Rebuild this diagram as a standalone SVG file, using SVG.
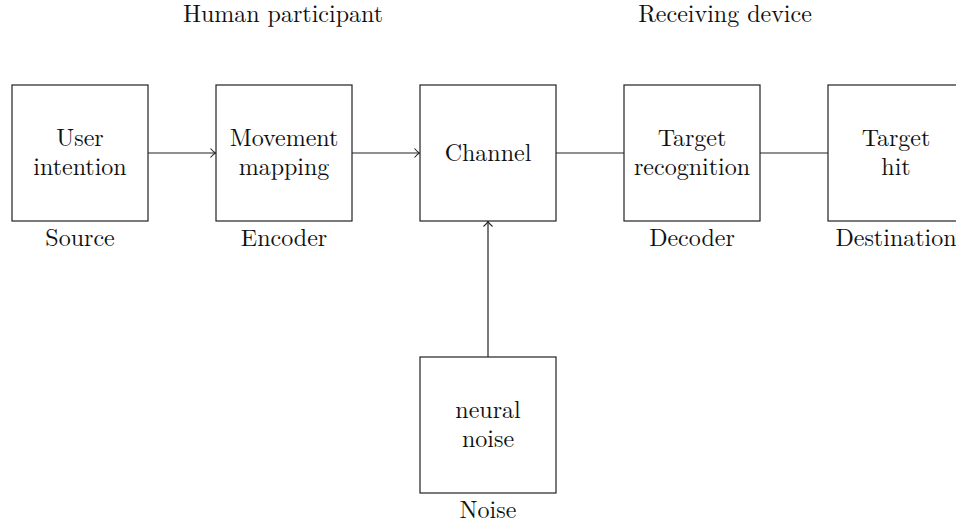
<svg xmlns="http://www.w3.org/2000/svg" width="956" height="524" viewBox="0 0 956 524" font-family="Latin Modern Roman, Liberation Serif, serif">
<style>
.box{fill:#fff;stroke:#222;stroke-width:1.2}
text{font-size:24px;fill:#111;text-anchor:middle}
.c{stroke:#222;stroke-width:1.2;fill:none}
</style>
<defs>
<marker id="arr" viewBox="-8 -6 10 12" markerWidth="10" markerHeight="12" refX="0" refY="0" orient="auto" markerUnits="userSpaceOnUse">
<path d="M-5,-4.5 Q-2,-1 0,0 Q-2,1 -5,4.5" fill="none" stroke="#222" stroke-width="1.1"/>
</marker>
</defs>
<rect width="956" height="524" fill="#fff"/>
<text x="283" y="22">Human participant</text>
<text x="725" y="22">Receiving device</text>
<g id="connectors">
<line class="c" x1="148" y1="153" x2="215.5" y2="153" marker-end="url(#arr)"/>
<line class="c" x1="352" y1="153" x2="419.5" y2="153" marker-end="url(#arr)"/>
<line class="c" x1="556" y1="153" x2="624" y2="153"/>
<line class="c" x1="760" y1="153" x2="828" y2="153"/>
<line class="c" x1="488" y1="357" x2="488" y2="221.5" marker-end="url(#arr)"/>
</g>
<g id="source">
<rect class="box" x="12" y="85" width="136" height="136"/>
<text x="80" y="146">User</text>
<text x="80" y="175">intention</text>
<text x="80" y="246">Source</text>
</g>
<g id="encoder">
<rect class="box" x="216" y="85" width="136" height="136"/>
<text x="284" y="146">Movement</text>
<text x="284" y="175">mapping</text>
<text x="284" y="246">Encoder</text>
</g>
<g id="channel">
<rect class="box" x="420" y="85" width="136" height="136"/>
<text x="488" y="161">Channel</text>
</g>
<g id="decoder">
<rect class="box" x="624" y="85" width="136" height="136"/>
<text x="692" y="146">Target</text>
<text x="692" y="175">recognition</text>
<text x="692" y="246">Decoder</text>
</g>
<g id="destination">
<rect class="box" x="828" y="85" width="136" height="136"/>
<text x="896" y="146">Target</text>
<text x="896" y="175">hit</text>
<text x="896" y="246">Destination</text>
</g>
<g id="noise">
<rect class="box" x="420" y="357" width="136" height="136"/>
<text x="488" y="418">neural</text>
<text x="488" y="447">noise</text>
<text x="488" y="518">Noise</text>
</g>
</svg>
